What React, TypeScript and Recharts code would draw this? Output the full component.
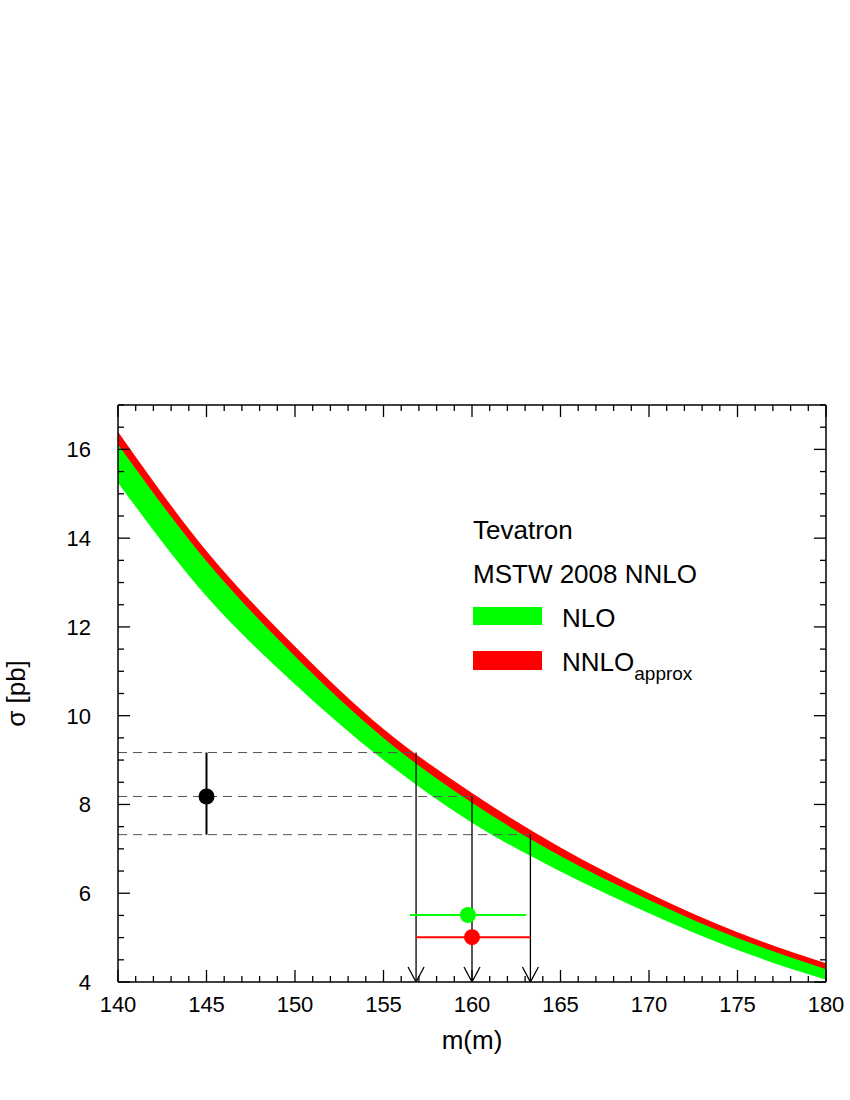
import {
  ComposedChart,
  Area,
  Scatter,
  XAxis,
  YAxis,
  ReferenceLine,
  ErrorBar,
} from "recharts";

const FONT = "'Liberation Sans', Arial, Helvetica, sans-serif";

// top-quark mass points [GeV] and cross section bands [pb]
const massPoints = [140, 145, 150, 155, 160, 165, 170, 175, 180];
const nnloHigh = [16.4, 13.71, 11.56, 9.7, 8.26, 7.03, 6.0, 5.12, 4.42];
const nnloLow = [16.11, 13.48, 11.34, 9.5, 8.04, 6.84, 5.85, 4.99, 4.29];
const nloHigh = [16.15, 13.52, 11.38, 9.54, 8.08, 6.88, 5.88, 5.02, 4.31];
const nloLow = [15.25, 12.69, 10.71, 9.0, 7.59, 6.49, 5.55, 4.72, 4.05];

// measured cross section (drawn at m = 145) with asymmetric error
const measured = [{ m: 145, s: 8.18, err: [0.86, 0.99] }];

// extracted masses
const nloExtracted = [{ m: 159.77, s: 5.51, err: [3.27, 3.28] }];
const nnloExtracted = [{ m: 160.0, s: 5.01, err: [3.16, 3.3] }];

// where the measured sigma (high / central / low) crosses the NNLO curve
const crossLevels = [9.17, 8.18, 7.32];
const crossMasses = [156.84, 160.0, 163.3];

const xMajor = [140, 145, 150, 155, 160, 165, 170, 175, 180];
const yMajor = [4, 6, 8, 10, 12, 14, 16];
const xTicks = Array.from({ length: 41 }, (_, i) => 140 + i);
const yTicks = Array.from({ length: 27 }, (_, i) => 4 + i * 0.5);

const bandData = massPoints.map((m, i) => ({
  m,
  nlo: [nloLow[i], nloHigh[i]],
  nnlo: [nnloLow[i], nnloHigh[i]],
}));

const arrowPoints = crossMasses.map((m) => ({ m, s: 4 }));

const TICK = { stroke: "#000", strokeWidth: 1.3 };

function BottomTick(props: any) {
  const { x, y, payload } = props;
  const major = xMajor.includes(payload.value);
  return (
    <g>
      <line x1={x} x2={x} y1={y} y2={y - (major ? 12 : 6)} {...TICK} />
      {major && (
        <text x={x} y={y + 30} textAnchor="middle" fontSize={22} fontFamily={FONT} fill="#000">
          {payload.value}
        </text>
      )}
    </g>
  );
}

function TopTick(props: any) {
  const { x, y, payload } = props;
  const major = xMajor.includes(payload.value);
  return <line x1={x} x2={x} y1={y} y2={y + (major ? 12 : 6)} {...TICK} />;
}

function LeftTick(props: any) {
  const { x, y, payload } = props;
  const major = yMajor.includes(payload.value);
  return (
    <g>
      <line x1={x} x2={x + (major ? 12 : 6)} y1={y} y2={y} {...TICK} />
      {major && (
        <text x={x - 27} y={y} dy="0.36em" textAnchor="end" fontSize={22} fontFamily={FONT} fill="#000">
          {payload.value}
        </text>
      )}
    </g>
  );
}

function RightTick(props: any) {
  const { x, y, payload } = props;
  const major = yMajor.includes(payload.value);
  return <line x1={x} x2={x - (major ? 12 : 6)} y1={y} y2={y} {...TICK} />;
}

const dot = (fill: string) => (props: any) =>
  <circle cx={props.cx} cy={props.cy} r={8} fill={fill} />;

function ArrowHead(props: any) {
  const { cx, cy } = props;
  return (
    <path
      d={`M${cx - 8},${cy - 15} L${cx},${cy} L${cx + 8},${cy - 15}`}
      fill="none"
      stroke="#000"
      strokeWidth={1.3}
    />
  );
}

function YTitle(props: any) {
  const vb = props.viewBox;
  const cx = vb.x - 42;
  const cy = vb.y + vb.height / 2;
  return (
    <text
      x={cx}
      y={cy}
      dy="0.36em"
      textAnchor="middle"
      transform={`rotate(-90 ${cx} ${cy})`}
      fontSize={26}
      fontFamily={FONT}
      fill="#000"
    >
      σ [pb]
    </text>
  );
}

function XTitle(props: any) {
  const vb = props.viewBox;
  return (
    <text
      x={vb.x + vb.width / 2}
      y={vb.y + 67}
      textAnchor="middle"
      fontSize={26}
      fontFamily={FONT}
      fill="#000"
    >
      m(m)
    </text>
  );
}

const ax = { xAxisId: "main", yAxisId: "main" };

export default function App() {
  return (
    <div style={{ position: "absolute", left: 0, top: 0, width: 850, height: 1100, background: "#fff" }}>
      <ComposedChart
        width={850}
        height={1100}
        data={bandData}
        margin={{ top: 404, right: 23, left: 58, bottom: 58 }}
      >
        <XAxis
          xAxisId="main"
          dataKey="m"
          type="number"
          domain={[140, 180]}
          allowDataOverflow
          ticks={xTicks}
          interval={0}
          height={60}
          tickSize={0}
          tickMargin={0}
          tickLine={false}
          tick={BottomTick}
          axisLine={{ stroke: "#000", strokeWidth: 1.5 }}
          label={{ content: XTitle }}
        />
        <XAxis
          xAxisId="top"
          orientation="top"
          dataKey="m"
          type="number"
          domain={[140, 180]}
          allowDataOverflow
          ticks={xTicks}
          interval={0}
          height={1}
          tickSize={0}
          tickMargin={0}
          tickLine={false}
          tick={TopTick}
          axisLine={{ stroke: "#000", strokeWidth: 1.5 }}
        />
        <YAxis
          yAxisId="main"
          type="number"
          domain={[4, 17]}
          allowDataOverflow
          ticks={yTicks}
          interval={0}
          width={60}
          tickSize={0}
          tickMargin={0}
          tickLine={false}
          tick={LeftTick}
          axisLine={{ stroke: "#000", strokeWidth: 1.5 }}
          label={{ content: YTitle }}
        />
        <YAxis
          yAxisId="right"
          orientation="right"
          type="number"
          domain={[4, 17]}
          allowDataOverflow
          ticks={yTicks}
          interval={0}
          width={1}
          tickSize={0}
          tickMargin={0}
          tickLine={false}
          tick={RightTick}
          axisLine={{ stroke: "#000", strokeWidth: 1.5 }}
        />

        <Area
          {...ax}
          type="monotone"
          dataKey="nlo"
          fill="#00ff00"
          fillOpacity={1}
          stroke="none"
          isAnimationActive={false}
        />
        <Area
          {...ax}
          type="monotone"
          dataKey="nnlo"
          fill="#ff0000"
          fillOpacity={1}
          stroke="none"
          isAnimationActive={false}
        />

        {crossLevels.map((s, i) => (
          <ReferenceLine
            key={`h-${i}`}
            {...ax}
            segment={[
              { x: 140, y: s },
              { x: crossMasses[i], y: s },
            ]}
            stroke="#555"
            strokeWidth={1}
            strokeDasharray="9 6"
          />
        ))}
        {crossLevels.map((s, i) => (
          <ReferenceLine
            key={`v-${i}`}
            {...ax}
            segment={[
              { x: crossMasses[i], y: s },
              { x: crossMasses[i], y: 4 },
            ]}
            stroke="#000"
            strokeWidth={1.3}
          />
        ))}

        <Scatter {...ax} data={arrowPoints} dataKey="s" shape={ArrowHead} isAnimationActive={false} />

        <Scatter {...ax} data={measured} dataKey="s" shape={dot("#000")} isAnimationActive={false}>
          <ErrorBar dataKey="err" direction="y" width={0} stroke="#000" strokeWidth={2} isAnimationActive={false} />
        </Scatter>
        <Scatter {...ax} data={nloExtracted} dataKey="s" shape={dot("#00ff00")} isAnimationActive={false}>
          <ErrorBar dataKey="err" direction="x" width={0} stroke="#00ff00" strokeWidth={2} isAnimationActive={false} />
        </Scatter>
        <Scatter {...ax} data={nnloExtracted} dataKey="s" shape={dot("#ff0000")} isAnimationActive={false}>
          <ErrorBar dataKey="err" direction="x" width={0} stroke="#ff0000" strokeWidth={2} isAnimationActive={false} />
        </Scatter>
      </ComposedChart>

      <svg
        width={850}
        height={1100}
        style={{ position: "absolute", left: 0, top: 0, pointerEvents: "none" }}
        fontFamily={FONT}
      >
        <text x={473} y={539} fontSize={26} fill="#000">Tevatron</text>
        <text x={473} y={583} fontSize={26} fill="#000">MSTW 2008 NNLO</text>
        <rect x={473} y={607} width={69} height={18} fill="#00ff00" />
        <text x={562} y={627} fontSize={26} fill="#000">NLO</text>
        <rect x={473} y={651} width={69} height={19} fill="#ff0000" />
        <text x={562} y={671} fontSize={26} fill="#000">
          NNLO
          <tspan fontSize={19} dy={9}>approx</tspan>
        </text>
      </svg>
    </div>
  );
}
